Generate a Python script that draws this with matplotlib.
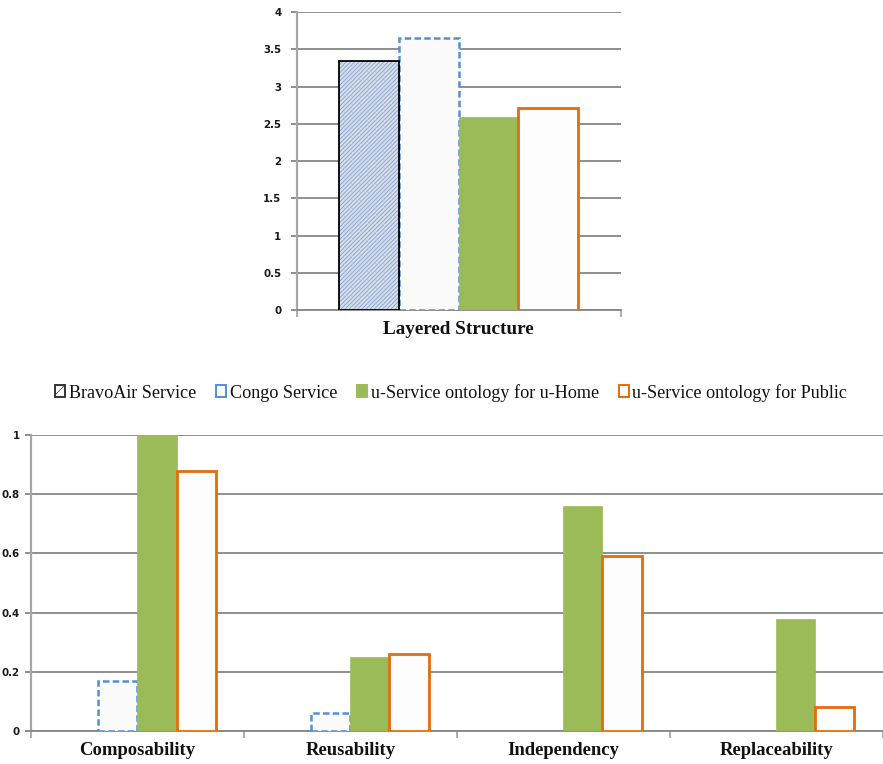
import matplotlib
matplotlib.use("Agg")
import matplotlib.pyplot as plt
import numpy as np
from matplotlib.patches import Patch

# ---- data ----
series = ["BravoAir Service", "Congo Service",
          "u-Service ontology for u-Home", "u-Service ontology for Public"]

top_category = ["Layered Structure"]
top_values = {
    "BravoAir Service": [3.34],
    "Congo Service": [3.66],
    "u-Service ontology for u-Home": [2.59],
    "u-Service ontology for Public": [2.72],
}
top_yticks = [0, 0.5, 1, 1.5, 2, 2.5, 3, 3.5, 4]

bottom_categories = ["Composability", "Reusability", "Independency", "Replaceability"]
bottom_values = {
    "BravoAir Service": [0, 0, 0, 0],
    "Congo Service": [0.17, 0.06, 0, 0],
    "u-Service ontology for u-Home": [1.0, 0.25, 0.76, 0.38],
    "u-Service ontology for Public": [0.88, 0.26, 0.59, 0.08],
}
bottom_yticks = [0, 0.2, 0.4, 0.6, 0.8, 1]

# ---- styles ----
styles = {
    "BravoAir Service": dict(face="#d3ddec", edge="black", hatch="////////",
                             hatch_col="#7d97c0", ls="solid", lw=1.3),
    "Congo Service": dict(face="#fbfbfb", edge="#558ed5", hatch=None,
                          hatch_col=None, ls=(0, (2.6, 1.3)), lw=1.8),
    "u-Service ontology for u-Home": dict(face="#9bbb59", edge="#9bbb59", hatch=None,
                                          hatch_col=None, ls="solid", lw=0.5),
    "u-Service ontology for Public": dict(face="#fdfdfd", edge="#e46c0a", hatch=None,
                                          hatch_col=None, ls="solid", lw=2.0),
}

plt.rcParams["hatch.linewidth"] = 0.5
GRID = "#868686"
SPINE = "#a6a6a6"
SERIF = "Liberation Serif"
TICK_FONT = dict(fontsize=7.4, family="DejaVu Sans", fontweight="bold", color="#1a1a1a")
CAT_FONT = dict(fontsize=13.4, family=SERIF, fontweight="bold", color="#111111")

fig = plt.figure(figsize=(8.83, 7.64), dpi=100)
ax1 = fig.add_axes([0.336, 0.594, 0.367, 0.390])
ax2 = fig.add_axes([0.035, 0.0432, 0.9645, 0.3874])

width = 0.184


def draw_bars(ax, n_cat, values):
    x = np.arange(n_cat)
    for i, name in enumerate(series):
        st = styles[name]
        vals = values[name]
        pos = x + (i - 1.5) * width
        edges = [st["edge"] if v > 0 else "none" for v in vals]
        if st["hatch"]:
            # hatched fill first, outline on top
            hatch_edges = [st["hatch_col"] if v > 0 else "none" for v in vals]
            ax.bar(pos, vals, width, color=st["face"], edgecolor=hatch_edges,
                   hatch=st["hatch"], linewidth=0, zorder=3, align="center")
            ax.bar(pos, vals, width, fill=False, edgecolor=edges,
                   linewidth=st["lw"], zorder=4, align="center")
        else:
            ax.bar(pos, vals, width, color=st["face"], edgecolor=edges,
                   linewidth=st["lw"], linestyle=st["ls"], zorder=3,
                   align="center")


def style_axes(ax, n_cat, yticks, ypad):
    ax.set_xlim(-0.5, n_cat - 0.5)
    ax.set_ylim(yticks[0], yticks[-1])
    ax.set_yticks(yticks)
    ax.set_yticklabels([f"{t:g}" for t in yticks], **TICK_FONT)
    ax.yaxis.grid(True, color=GRID, linewidth=1.3, zorder=0)
    ax.set_axisbelow(True)
    for s in ("top", "right"):
        ax.spines[s].set_visible(False)
    ax.spines["left"].set_color(SPINE)
    ax.spines["left"].set_linewidth(1.6)
    ax.spines["bottom"].set_color(GRID)
    ax.spines["bottom"].set_linewidth(1.3)
    ax.tick_params(axis="y", length=4, color=GRID, width=1.3, pad=ypad)
    ax.set_xticks(np.arange(n_cat))
    ax.tick_params(axis="x", which="major", length=0, pad=8)
    ax.set_xticks(np.arange(n_cat + 1) - 0.5, minor=True)
    ax.tick_params(axis="x", which="minor", length=5, color=SPINE, width=1.3)


draw_bars(ax1, 1, top_values)
style_axes(ax1, 1, top_yticks, 7)
ax1.set_xticklabels(top_category, fontsize=13.8, family=SERIF,
                    fontweight="bold", color="#111111")

draw_bars(ax2, 4, bottom_values)
style_axes(ax2, 4, bottom_yticks, 4)
ax2.set_xticklabels(bottom_categories, **CAT_FONT)

# legend patches showing each series' look
leg_handles = []
for name in series:
    st = styles[name]
    leg_handles.append(Patch(facecolor=st["face"] if name != "BravoAir Service" else "white",
                             edgecolor=st["edge"] if name != "BravoAir Service" else "#333333",
                             hatch="//" if st["hatch"] else None,
                             linewidth=1.4, linestyle="solid"))
fig.legend(leg_handles, series, loc="center", bbox_to_anchor=(0.511, 0.486),
           ncol=4, frameon=False,
           prop={"family": SERIF, "size": 13.1},
           labelcolor="#111111",
           handlelength=0.55, handleheight=0.6, handletextpad=0.2,
           columnspacing=1.1)

fig.savefig("out.png", dpi=100)
